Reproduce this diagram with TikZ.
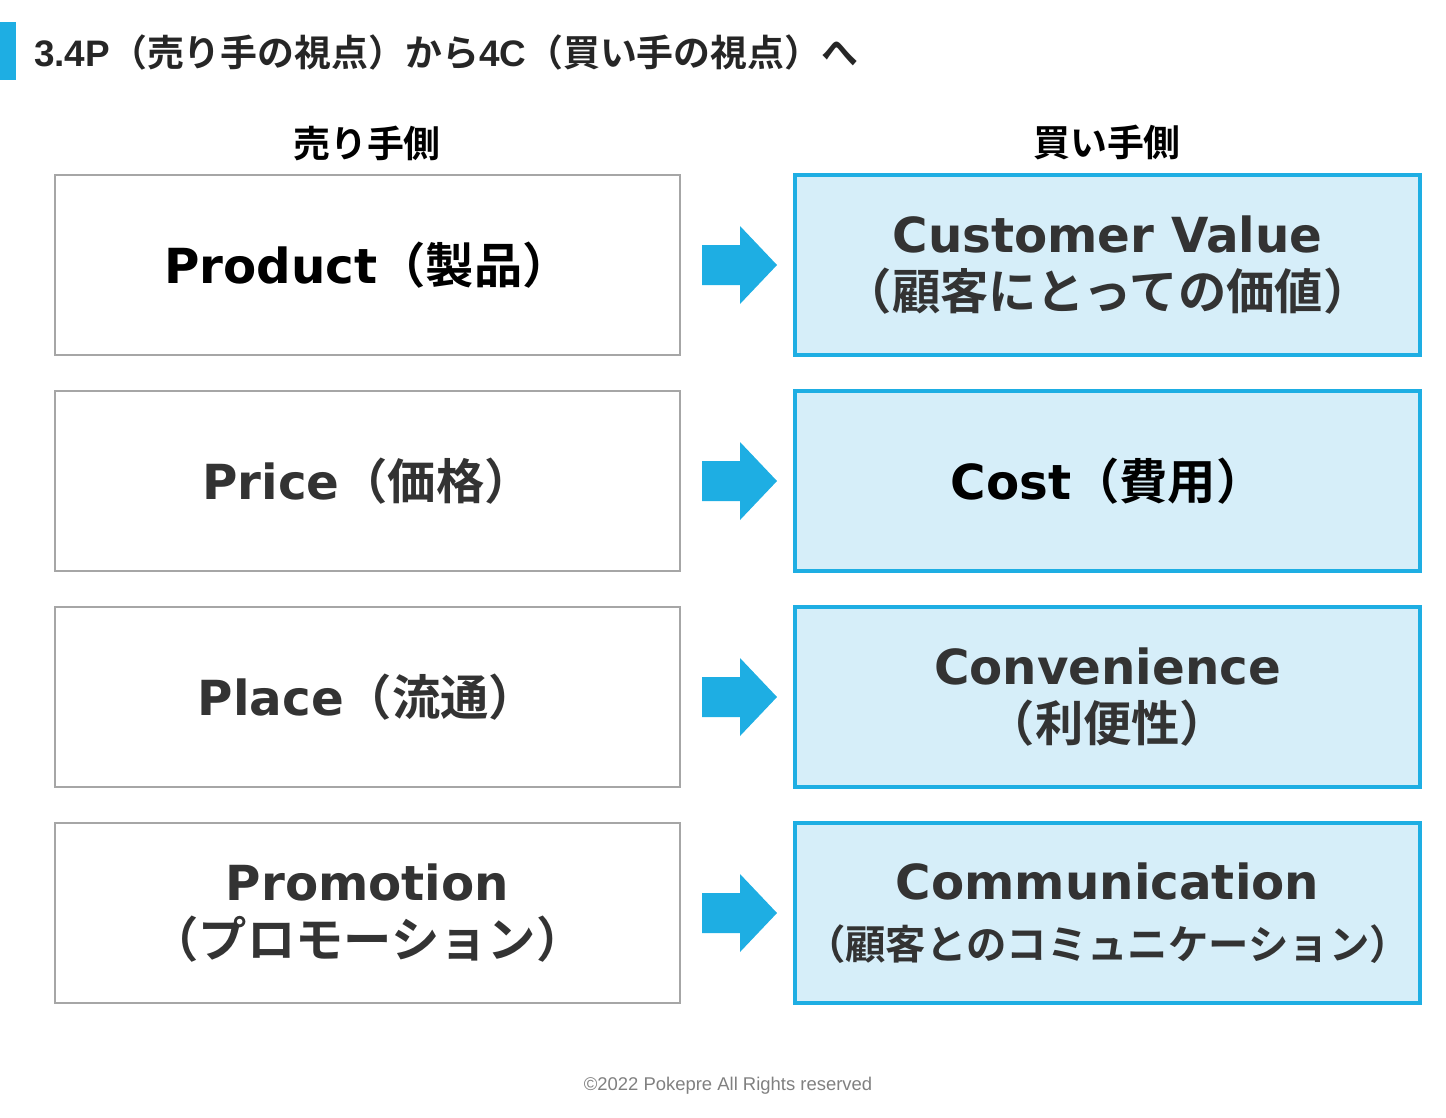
\documentclass[tikz,border=0pt]{standalone}
\usepackage{fontspec}
\setmainfont{DejaVu Sans}
\newfontfamily\jp{Noto Sans CJK JP}[BoldFont={* Bold}]
\newfontfamily\ar{Liberation Sans}
\newcommand{\J}[1]{{\jp #1}}
\definecolor{acc}{HTML}{1EAEE3}
\definecolor{lb}{HTML}{D6EEF9}
\definecolor{tx}{HTML}{333333}
\definecolor{gb}{HTML}{A6A6A6}
\begin{document}
\begin{tikzpicture}[x=0.02cm,y=-0.02cm,
  lbox/.style={draw=gb,line width=1.2pt,minimum width=625*0.02cm,minimum height=180*0.02cm,align=center,font=\bfseries\fontsize{27.5}{34}\selectfont,text=tx},
  rbox/.style={draw=acc,fill=lb,line width=2.4pt,minimum width=625*0.02cm,minimum height=180*0.02cm,align=center,font=\bfseries\fontsize{27.5}{34}\selectfont,text=tx},
  hd/.style={font=\jp\bfseries\fontsize{21}{24}\selectfont,text=black},
  arr/.style={fill=acc,draw=none}]
\useasboundingbox (0,0) rectangle (1446,1117);
\fill[acc] (0,22) rectangle (16,80);
\node[anchor=west,font=\bfseries\fontsize{21}{24}\selectfont,text=black!85] (title) at (28,52) {{\ar 3.4P}\J{（売り手の視点）から}{\ar 4C}\J{（買い手の視点）へ}};
\node[hd] (h1) at (367,143) {売り手側};
\node[hd] (h2) at (1107,143) {買い手側};
\node[lbox,text=black] (l1) at (367.5,265) {Product\J{（製品）}};
\node[lbox] (l2) at (367.5,481) {Price\J{（価格）}};
\node[lbox] (l3) at (367.5,697) {Place\J{（流通）}};
\node[lbox] (l4) at (367.5,913) {Promotion\\[-2pt]\J{（プロモーション）}};
\node[rbox] (r1) at (1107.5,265) {Customer Value\\[-2pt]\J{（顧客にとっての価値）}};
\node[rbox,text=black] (r2) at (1107.5,481) {Cost\J{（費用）}};
\node[rbox] (r3) at (1107.5,697) {Convenience\\[-2pt]\J{（利便性）}};
\node[rbox] (r4) at (1107.5,913) {Communication\\[0pt]{\jp\fontsize{23}{28}\selectfont（顧客とのコミュニケーション）}};
\foreach \y in {265,481,697,913}{
  \fill[arr] (702,\y-20) -- (740,\y-20) -- (740,\y-39) -- (777,\y) -- (740,\y+39) -- (740,\y+20) -- (702,\y+20) -- cycle;
}
\node[font=\ar\fontsize{10.5}{12}\selectfont,text=gray] (ft) at (728,1086) {©2022 Pokepre All Rights reserved};
\end{tikzpicture}
\end{document}
